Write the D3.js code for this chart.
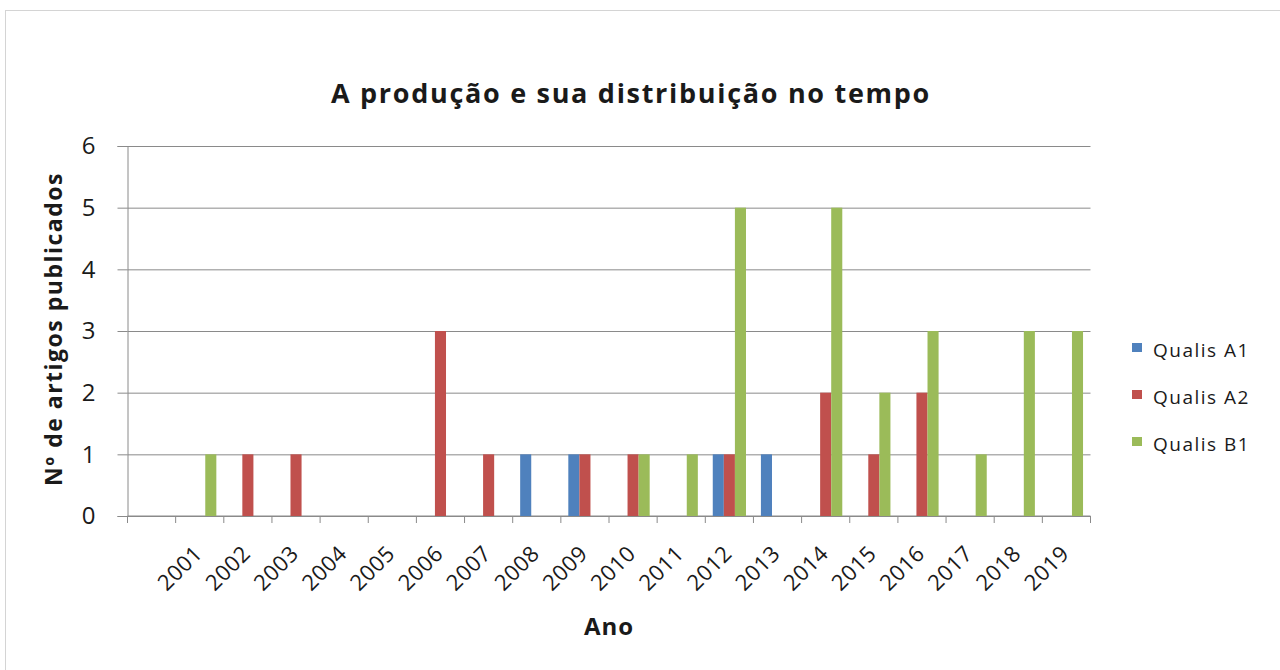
<html>
<head>
<script src="https://d3js.org/d3.v7.min.js"></script>
<style>
  body { margin: 0; background: #fff; }
  text { font-family: "Open Sans", Lato, sans-serif; fill: #1a1a1a; }
  .gridlines line { stroke: #8a8a8a; }
  .gridlines .domain { stroke: none; }
</style>
</head>
<body>
<svg id="chart" width="1280" height="670"></svg>
<script>
// data
const years = ["", "2001", "2002", "2003", "2004", "2005", "2006", "2007", "2008", "2009", "2010",
               "2011", "2012", "2013", "2014", "2015", "2016", "2017", "2018", "2019"];
const seriesNames = ["Qualis A1", "Qualis A2", "Qualis B1"];
const qualisA1 = [0, 0, 0, 0, 0, 0, 0, 0, 1, 1, 0, 0, 1, 1, 0, 0, 0, 0, 0, 0];
const qualisA2 = [0, 0, 1, 1, 0, 0, 3, 1, 0, 1, 1, 0, 1, 0, 2, 1, 2, 0, 0, 0];
const qualisB1 = [0, 1, 0, 0, 0, 0, 0, 0, 0, 0, 1, 1, 5, 0, 5, 2, 3, 1, 3, 3];
const yTicks = [0, 1, 2, 3, 4, 5, 6];
const colors = ["#4f81bd", "#c0504d", "#9bbb59"];

const svg = d3.select('svg#chart');
const margin = { top: 146, left: 127.5, right: 1280 - 1090.5, bottom: 670 - 516 };
const chartWidth = 1280 - margin.left - margin.right;
const chartHeight = 670 - margin.top - margin.bottom;

// outer border of the chart area
svg.append('rect')
  .attr('x', 5.5).attr('y', 10.5)
  .attr('width', 1300).attr('height', 700)
  .attr('fill', 'none').attr('stroke', '#d4d4d4');

const pad = 0.31;
const xScale = d3.scaleBand().domain(d3.range(years.length))
  .range([0, chartWidth]).paddingInner(pad).paddingOuter(pad / 2);
const xInner = d3.scaleBand().domain(seriesNames).range([0, xScale.bandwidth()]);
const yScale = d3.scaleLinear().domain([0, 6]).range([chartHeight, 0]);

const chart = svg.append('g').attr('transform', `translate(${margin.left},${margin.top})`);

// horizontal gridlines
chart.append('g')
  .attr('class', 'gridlines')
  .call(d3.axisLeft(yScale).tickValues(yTicks).tickSize(-chartWidth).tickFormat(''));

// y axis
const yAxis = chart.append('g')
  .call(d3.axisLeft(yScale).tickValues(yTicks).tickSize(10).tickPadding(22).tickFormat(d3.format('d')));
yAxis.selectAll('line, path').attr('stroke', '#8a8a8a');
yAxis.selectAll('text').style('font-size', '24px').attr('fill', '#1a1a1a');

// x axis (labels at band centres, ticks on band edges)
const step = xScale.step();
const xAxisG = chart.append('g').attr('transform', `translate(0,${chartHeight})`);
xAxisG.append('line').attr('x1', 0).attr('x2', chartWidth)
  .attr('stroke', '#8a8a8a');
xAxisG.selectAll('line.tick').data(d3.range(years.length + 1)).join('line')
  .attr('class', 'tick')
  .attr('x1', d => d * step).attr('x2', d => d * step)
  .attr('y1', 0).attr('y2', 7)
  .attr('stroke', '#8a8a8a');
xAxisG.selectAll('text.year').data(d3.range(years.length)).join('text')
  .attr('class', 'year')
  .attr('transform', d => `translate(${xScale(d) + xScale.bandwidth() / 2 + 4},39) rotate(-45)`)
  .attr('text-anchor', 'end')
  .style('font-size', '22px')
  .style('letter-spacing', '0.5px')
  .text(d => years[d]);

// bars
const rows = years.map((y, i) => ({ i: i, values: [qualisA1[i], qualisA2[i], qualisB1[i]] }));
const groups = chart.selectAll('g.year').data(rows).join('g')
  .attr('class', 'year')
  .attr('transform', d => `translate(${xScale(d.i)},0)`);
groups.selectAll('rect').data(d => d.values.map((v, k) => ({ k: k, v: v })).filter(e => e.v > 0))
  .join('rect')
  .attr('x', e => xInner(seriesNames[e.k]))
  .attr('width', xInner.bandwidth())
  .attr('y', e => yScale(e.v))
  .attr('height', e => chartHeight - yScale(e.v))
  .attr('fill', e => colors[e.k]);

// title
svg.append('text')
  .attr('x', 631).attr('y', 103)
  .attr('text-anchor', 'middle')
  .style('font-size', '27px').style('font-weight', 'bold')
  .style('letter-spacing', '1.7px')
  .text('A produção e sua distribuição no tempo');

// axis titles
svg.append('text')
  .attr('transform', `translate(62,${margin.top + chartHeight / 2 - 2}) rotate(-90)`)
  .attr('text-anchor', 'middle')
  .style('font-size', '23px').style('font-weight', 'bold')
  .style('letter-spacing', '1.5px')
  .text('Nº de artigos publicados');

svg.append('text')
  .attr('x', margin.left + chartWidth / 2).attr('y', 635)
  .attr('text-anchor', 'middle')
  .style('font-size', '24px').style('font-weight', 'bold')
  .style('letter-spacing', '1px')
  .text('Ano');

// legend
const legend = svg.append('g').selectAll('g').data(seriesNames).join('g')
  .attr('transform', (d, i) => `translate(1132,${347.5 + i * 47})`);
legend.append('rect')
  .attr('x', 0).attr('y', -4.5).attr('width', 10).attr('height', 9)
  .attr('fill', (d, i) => colors[i]);
legend.append('text')
  .attr('x', 21).attr('y', 9.5)
  .style('font-size', '19px').style('letter-spacing', '1.5px')
  .text(d => d);
</script>
</body>
</html>
